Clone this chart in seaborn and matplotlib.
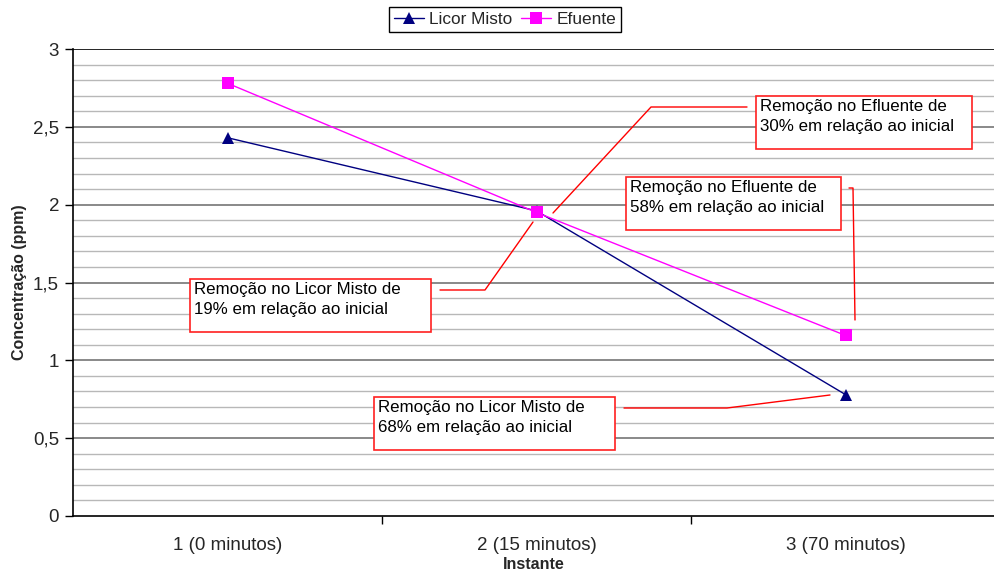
import matplotlib
matplotlib.use("Agg")
import matplotlib.pyplot as plt
import seaborn as sns
import pandas as pd
from matplotlib.patches import Rectangle
from matplotlib.lines import Line2D

categories = ["1 (0 minutos)", "2 (15 minutos)", "3 (70 minutos)"]
licor_misto = [2.43, 1.96, 0.78]
efluente = [2.78, 1.95, 1.16]
series_names = ["Licor Misto", "Efuente"]
y_ticks = [0, 0.5, 1, 1.5, 2, 2.5, 3]
y_tick_labels = ["0", "0,5", "1", "1,5", "2", "2,5", "3"]
annotations = [
    "Remoção no Licor Misto de\n19% em relação ao inicial",
    "Remoção no Efluente de\n30% em relação ao inicial",
    "Remoção no Efluente de\n58% em relação ao inicial",
    "Remoção no Licor Misto de\n68% em relação ao inicial",
]

sns.set_theme(style="white")
plt.rcParams["font.family"] = ["Liberation Sans", "DejaVu Sans"]

W, H = 994, 572
fig = plt.figure(figsize=(W / 100, H / 100), dpi=100)
ax = fig.add_axes([73 / W, 56 / H, (W - 73) / W, (516 - 49) / H])

df = pd.DataFrame({
    "Instante": categories * 2,
    "Valor": licor_misto + efluente,
    "Serie": [series_names[0]] * 3 + [series_names[1]] * 3,
})
colors = {series_names[0]: "#000080", series_names[1]: "#ff00ff"}
markers = {series_names[0]: "^", series_names[1]: "s"}

# grid lines
for v in [i / 10 for i in range(1, 30)]:
    if abs(v * 2 - round(v * 2)) < 1e-6:
        ax.axhline(v, color="#808080", lw=1.3, zorder=0)
    else:
        ax.axhline(v, color="#b8b8b8", lw=1.0, zorder=0)
ax.axhline(3, color="black", lw=1.2, zorder=0)

sns.lineplot(data=df, x="Instante", y="Valor", hue="Serie", style="Serie",
             palette=colors, markers=markers, dashes=False, sort=False,
             markersize=9, linewidth=1.0, markeredgewidth=0, ax=ax, legend=False, zorder=5)

px2x = lambda px: -0.5 + (px - 73) / 309.0
py2y = lambda py: (516 - py) / (467 / 3.0)

ax.set_xlim(-0.5, px2x(W))
ax.set_ylim(0, 3)
ax.set_yticks(y_ticks)
ax.set_yticklabels(y_tick_labels)
ax.set_xticks([0, 1, 2])
ax.set_xticklabels(categories)
ax.set_xticks([0.5, 1.5], minor=True)
ax.tick_params(axis="x", which="major", length=0, pad=15, labelsize=13.5)
ax.tick_params(axis="x", which="minor", length=6, width=1, color="black", direction="out", bottom=True)
ax.tick_params(axis="y", which="major", length=6, width=1, color="black", direction="out", left=True, labelsize=13.5, pad=4)
for s in ["top", "right"]:
    ax.spines[s].set_visible(False)
for s in ["left", "bottom"]:
    ax.spines[s].set_color("black")
    ax.spines[s].set_linewidth(1.2)
ax.set_xlabel("Instante", fontsize=11.5, fontweight="bold", labelpad=2)
ax.set_ylabel("Concentração (ppm)", fontsize=11.5, fontweight="bold", labelpad=4)

# annotation boxes (pixel layout)
boxes = [(190, 279, 431, 332), (756, 96, 972, 149), (626, 177, 841, 230), (374, 397, 615, 450)]
leaders = [
    [(440, 290), (485, 290), (533, 222)],
    [(747, 107), (651, 107), (553, 213)],
    [(849, 188), (853, 188), (855, 320)],
    [(624, 408), (727, 408), (830, 395)],
]
for (x0, y0, x1, y1), txt, pts in zip(boxes, annotations, leaders):
    ax.add_patch(Rectangle((px2x(x0), py2y(y1)), px2x(x1) - px2x(x0), py2y(y0) - py2y(y1),
                           facecolor="white", edgecolor="#ff2020", lw=1.2, zorder=6))
    ax.text(px2x(x0 + 4), py2y(y0 + 3), txt, ha="left", va="top", fontsize=12.2,
            linespacing=1.4, zorder=7, color="black")
    ax.plot([px2x(p[0]) for p in pts], [py2y(p[1]) for p in pts], color="#ff0000", lw=1.0, zorder=6)

handles = [Line2D([], [], color=colors[n], marker=markers[n], markersize=9, markeredgewidth=0, lw=1.0)
           for n in series_names]
leg = fig.legend(handles, series_names, loc="upper center", bbox_to_anchor=(505 / W, 1 - 7 / H),
                 ncol=2, frameon=True, fancybox=False, edgecolor="black", framealpha=1,
                 fontsize=12.4, handlelength=1.75, handletextpad=0.3, columnspacing=0.5,
                 borderpad=0.3, borderaxespad=0)
leg.get_frame().set_linewidth(1.0)

fig.savefig("out.png", dpi=100, facecolor="white")
